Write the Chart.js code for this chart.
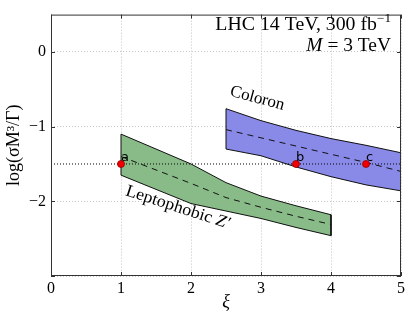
<html>
<head>
<script src="https://cdn.jsdelivr.net/npm/chart.js"></script>
<style>
  body { margin: 0; background: #fff; }
  #wrap { width: 411px; height: 316px; }
</style>
</head>
<body>
<div id="wrap"><canvas id="myChart" width="411" height="316"></canvas></div>
<script>
// Leptophobic Z' band
const zpX     = [1, 2, 2.5, 3, 3.5, 4];
const zpUpper = [-1.10, -1.50, -1.75, -1.93, -2.06, -2.18];
const zpLower = [-1.65, -2.03, -2.13, -2.23, -2.35, -2.46];
const zpMid   = [-1.40, -1.76, -1.95, -2.08, -2.20, -2.31];

// Coloron band
const colX     = [2.5, 3, 3.5, 4, 4.5, 5];
const colUpper = [-0.76, -0.92, -1.05, -1.16, -1.25, -1.35];
const colLower = [-1.30, -1.39, -1.54, -1.67, -1.78, -1.86];
const colMid   = [-1.04, -1.15, -1.26, -1.37, -1.48, -1.60];

// reference level and benchmark points
const refLevel = -1.5;
const benchX = [1, 3.5, 4.5];
const benchLabels = ['a', 'b', 'c'];

const xTicks = [0, 1, 2, 3, 4, 5];
const yTicks = [-3, -2, -1, 0];

const serif = '"Liberation Serif", "DejaVu Serif", serif';

function band(xs, up, lo) {
    const pts = xs.map((x, i) => ({ x: x, y: up[i] }));
    for (let i = xs.length - 1; i >= 0; i--) pts.push({ x: xs[i], y: lo[i] });
    pts.push(pts[0]);
    return pts;
}
function line(xs, ys) {
    return xs.map((x, i) => ({ x: x, y: ys[i] }));
}

// one line of mixed upright / italic text; parts = [text, italic, size, dy]
function mixed(ctx, parts, x, y, size, align, stretch) {
    stretch = stretch || 1;
    const font = p => (p[1] ? 'italic ' : '') + (p[2] || size) + 'px ' + serif;
    let total = 0;
    parts.forEach(p => { ctx.font = font(p); total += ctx.measureText(p[0]).width; });
    total *= stretch;
    let cx = align === 'right' ? x - total : (align === 'center' ? x - total / 2 : x);
    ctx.textAlign = 'left';
    parts.forEach(p => {
        ctx.font = font(p);
        ctx.save();
        ctx.translate(cx, y + (p[3] || 0));
        ctx.scale(stretch, 1);
        ctx.fillText(p[0], 0, 0);
        ctx.restore();
        cx += ctx.measureText(p[0]).width * stretch;
    });
}

const textPlugin = {
    id: 'texts',
    afterDraw(chart) {
        const ctx = chart.ctx, xs = chart.scales.x, ys = chart.scales.y, a = chart.chartArea;
        ctx.save();
        // frame
        ctx.strokeStyle = '#333';
        ctx.lineWidth = 1;
        ctx.strokeRect(a.left + 0.5, a.top + 0.5, a.right - a.left - 1, a.bottom - a.top - 1);
        // inward ticks
        ctx.beginPath();
        xTicks.forEach(v => {
            const px = Math.round(xs.getPixelForValue(v)) + 0.5;
            ctx.moveTo(px, a.bottom); ctx.lineTo(px, a.bottom - 4);
            ctx.moveTo(px, a.top); ctx.lineTo(px, a.top + 4);
        });
        yTicks.forEach(v => {
            const py = Math.round(ys.getPixelForValue(v)) + 0.5;
            ctx.moveTo(a.left, py); ctx.lineTo(a.left + 4, py);
            ctx.moveTo(a.right, py); ctx.lineTo(a.right - 4, py);
        });
        ctx.stroke();

        ctx.fillStyle = '#000';
        ctx.textBaseline = 'alphabetic';
        // header texts
        const rx = a.right - 10;
        mixed(ctx, [['LHC 14 TeV, 300 fb', false], ['\u22121', false, 12, -8]], rx, 30, 18, 'right', 1.1);
        mixed(ctx, [['M', true], [' = 3 TeV', false]], rx, 51, 18, 'right', 1.08);

        // band labels
        ctx.save();
        ctx.translate(xs.getPixelForValue(2.93), ys.getPixelForValue(-0.68));
        ctx.rotate(15 * Math.PI / 180);
        mixed(ctx, [['Coloron', false]], 0, 0, 17, 'center');
        ctx.restore();

        ctx.save();
        ctx.translate(xs.getPixelForValue(1.79), ys.getPixelForValue(-2.14));
        ctx.rotate(18 * Math.PI / 180);
        mixed(ctx, [['Leptophobic ', false], ['Z\u2032', true]], 0, 0, 17, 'center', 1.05);
        ctx.restore();

        // benchmark labels
        ctx.font = '13px "DejaVu Sans", sans-serif';
        ctx.textAlign = 'left';
        benchX.forEach((x, i) => {
            ctx.fillText(benchLabels[i], xs.getPixelForValue(x), ys.getPixelForValue(refLevel) - 3);
        });
        ctx.restore();
    }
};

const ctx = document.getElementById('myChart').getContext('2d');
const myChart = new Chart(ctx, {
    type: 'line',
    data: {
        datasets: [
            {
                data: band(zpX, zpUpper, zpLower),
                backgroundColor: 'rgb(136,187,136)',
                borderColor: '#111',
                borderWidth: 1,
                fill: 'shape',
                pointRadius: 0,
                tension: 0,
                order: 10
            },
            {
                data: band(colX, colUpper, colLower),
                backgroundColor: 'rgb(137,137,232)',
                borderColor: '#111',
                borderWidth: 1,
                fill: 'shape',
                pointRadius: 0,
                tension: 0,
                order: 10
            },
            {
                data: line(zpX, zpMid),
                borderColor: '#111',
                borderWidth: 1,
                borderDash: [6, 5],
                fill: false,
                pointRadius: 0,
                order: 5
            },
            {
                data: line(colX, colMid),
                borderColor: '#111',
                borderWidth: 1,
                borderDash: [6, 5],
                fill: false,
                pointRadius: 0,
                order: 5
            },
            {
                data: [{ x: 0, y: refLevel }, { x: 5, y: refLevel }],
                borderColor: '#000',
                borderWidth: 1,
                borderDash: [1, 2],
                fill: false,
                pointRadius: 0,
                order: 3
            },
            {
                data: benchX.map(x => ({ x: x, y: refLevel })),
                showLine: false,
                pointRadius: 3.5,
                pointBackgroundColor: 'rgb(240,0,0)',
                pointBorderColor: 'rgb(150,0,0)',
                pointBorderWidth: 0.8,
                order: 1
            }
        ]
    },
    options: {
        responsive: false,
        animation: false,
        events: [],
        layout: { padding: { top: 5, right: 10, left: 0, bottom: 0 } },
        plugins: {
            legend: { display: false },
            tooltip: { enabled: false }
        },
        scales: {
            x: {
                type: 'linear',
                min: 0,
                max: 5,
                afterFit: s => { s.height = 40; },
                afterBuildTicks: s => { s.ticks = xTicks.map(v => ({ value: v })); },
                grid: { color: '#c4c4c4', drawTicks: false },
                border: { display: false, dash: [1, 2] },
                ticks: {
                    padding: 3,
                    color: '#000',
                    font: { family: serif, size: 16 },
                    callback: v => String(v)
                },
                title: {
                    display: true,
                    text: '\u03be',
                    color: '#000',
                    font: { family: serif, size: 18, style: 'italic' },
                    padding: { top: 0, bottom: 3 }
                }
            },
            y: {
                min: -3,
                max: 0.5,
                afterFit: s => { s.width = 51; },
                afterBuildTicks: s => { s.ticks = yTicks.map(v => ({ value: v })); },
                grid: { color: '#c4c4c4', drawTicks: false },
                border: { display: false, dash: [1, 2] },
                ticks: {
                    padding: 5,
                    color: '#000',
                    font: { family: serif, size: 16 },
                    callback: v => v === -3 ? '' : (v < 0 ? '\u2212' + Math.abs(v) : String(v))
                },
                title: {
                    display: true,
                    text: 'log(\u03c3M\u00b3/\u0393)',
                    color: '#000',
                    font: { family: serif, size: 18 },
                    padding: { top: 3, bottom: 0 }
                }
            }
        }
    },
    plugins: [textPlugin]
});
</script>
</body>
</html>
